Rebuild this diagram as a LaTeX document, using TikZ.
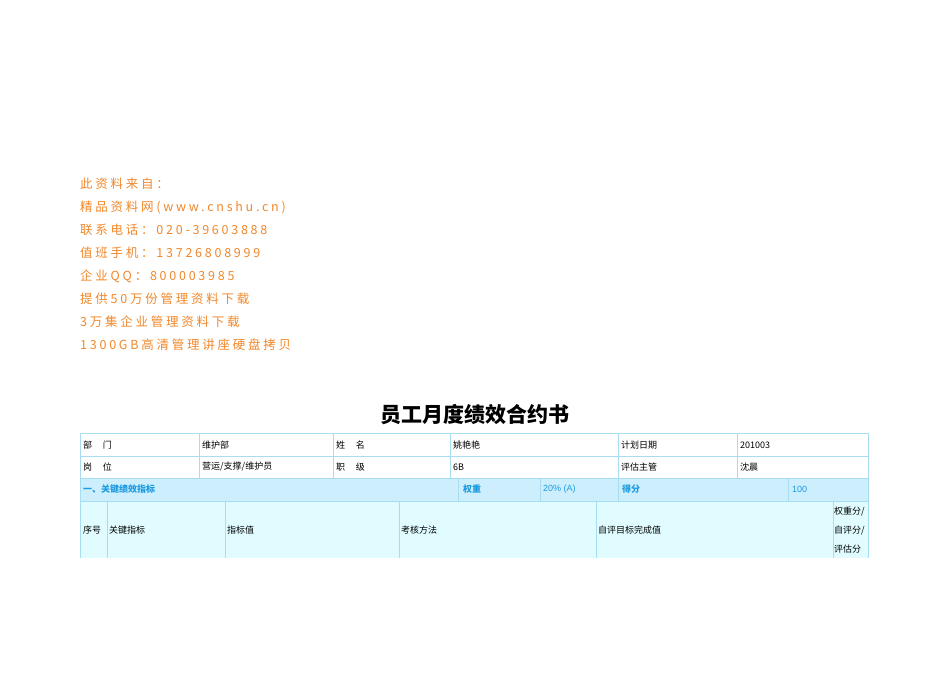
\documentclass[tikz,border=0pt]{standalone}
\usepackage{fontspec}
\setmainfont{Noto Sans CJK SC}
\newfontfamily\cjk{Noto Sans CJK SC}
\newfontfamily\srcf[LetterSpace=22]{Noto Sans CJK SC}
\newfontfamily\hd{Liberation Sans}
\definecolor{org}{HTML}{F0872A}
\definecolor{bd}{HTML}{A8DCF0}
\definecolor{hdfill}{HTML}{CDEEFC}
\definecolor{cfill}{HTML}{E0FCFF}
\definecolor{hdtxt}{HTML}{1E9BE0}
\begin{document}
\begin{tikzpicture}[x=1pt,y=-1pt,
  src/.style={anchor=west,text=org,font=\srcf\fontsize{12.5}{14}\selectfont,inner sep=0pt},
  cell/.style={anchor=west,font=\fontsize{9}{10}\selectfont,inner sep=0pt},
  hcell/.style={anchor=west,font=\cjk\bfseries\fontsize{9}{10}\selectfont,text=hdtxt,inner sep=0pt},
  grid/.style={draw=bd,line width=0.8pt}]
\useasboundingbox (0,0) rectangle (950,672);
\node[src] (s1) at (80,184) {此资料来自：};
\node[src] (s2) at (80,207) {精品资料网(www.cnshu.cn)};
\node[src] (s3) at (80,230) {联系电话：020-39603888};
\node[src] (s4) at (80,253) {值班手机：13726808999};
\node[src] (s5) at (80,276) {企业QQ：800003985};
\node[src] (s6) at (80,299) {提供50万份管理资料下载};
\node[src] (s7) at (80,322) {3万集企业管理资料下载};
\node[src] (s8) at (80,345) {1300GB高清管理讲座硬盘拷贝};
\node[font=\bfseries\fontsize{21}{23}\selectfont] (title) at (475,415) {员工月度绩效合约书};
% fills
\fill[hdfill] (80,478) rectangle (868,501);
\fill[cfill] (80,501) rectangle (868,558);
% grid
\draw[grid] (80,433) -- (868,433);
\draw[grid] (80,456) -- (868,456);
\draw[grid] (80,478) -- (868,478);
\draw[grid] (80,501) -- (868,501);
\foreach \x in {80,868} \draw[grid] (\x,433) -- (\x,558);
\foreach \x in {199,333,450,618,737} \draw[grid] (\x,433) -- (\x,478);
\foreach \x in {458,540,618,788} \draw[grid] (\x,478) -- (\x,501);
\foreach \x in {107,225,399,596,833} \draw[grid] (\x,501) -- (\x,558);
% row 1
\node[cell] (a1) at (83,445) {部\hspace{1.2em}门};
\node[cell] (a2) at (202,445) {维护部};
\node[cell] (a3) at (336,445) {姓\hspace{1.2em}名};
\node[cell] (a4) at (453,445) {姚艳艳};
\node[cell] (a5) at (621,445) {计划日期};
\node[cell] (a6) at (740,445) {201003};
\node[cell] (b1) at (83,467) {岗\hspace{1.2em}位};
\node[cell] (b2) at (202,467) {营运/支撑/维护员};
\node[cell] (b3) at (336,467) {职\hspace{1.2em}级};
\node[cell] (b4) at (453,467) {6B};
\node[cell] (b5) at (621,467) {评估主管};
\node[cell] (b6) at (740,467) {沈晨};
\node[hcell] (c1) at (83,489.5) {一、关键绩效指标};
\node[hcell] (c2) at (463,489.5) {权重};
\node[hcell,font=\hd\fontsize{9}{10}\selectfont] (c3) at (543,489.5) {20\% (A)};
\node[hcell] (c4) at (622,489.5) {得分};
\node[hcell,font=\hd\fontsize{9}{10}\selectfont] (c5) at (792,489.5) {100};
\node[cell] (d1) at (83,530) {序号};
\node[cell] (d2) at (109,530) {关键指标};
\node[cell] (d3) at (227,530) {指标值};
\node[cell] (d4) at (401,530) {考核方法};
\node[cell] (d5) at (598,530) {自评目标完成值};
\node[cell,align=left,font=\fontsize{9}{19}\selectfont] (d6) at (834,530) {权重分/\\自评分/\\评估分};
\end{tikzpicture}
\end{document}
